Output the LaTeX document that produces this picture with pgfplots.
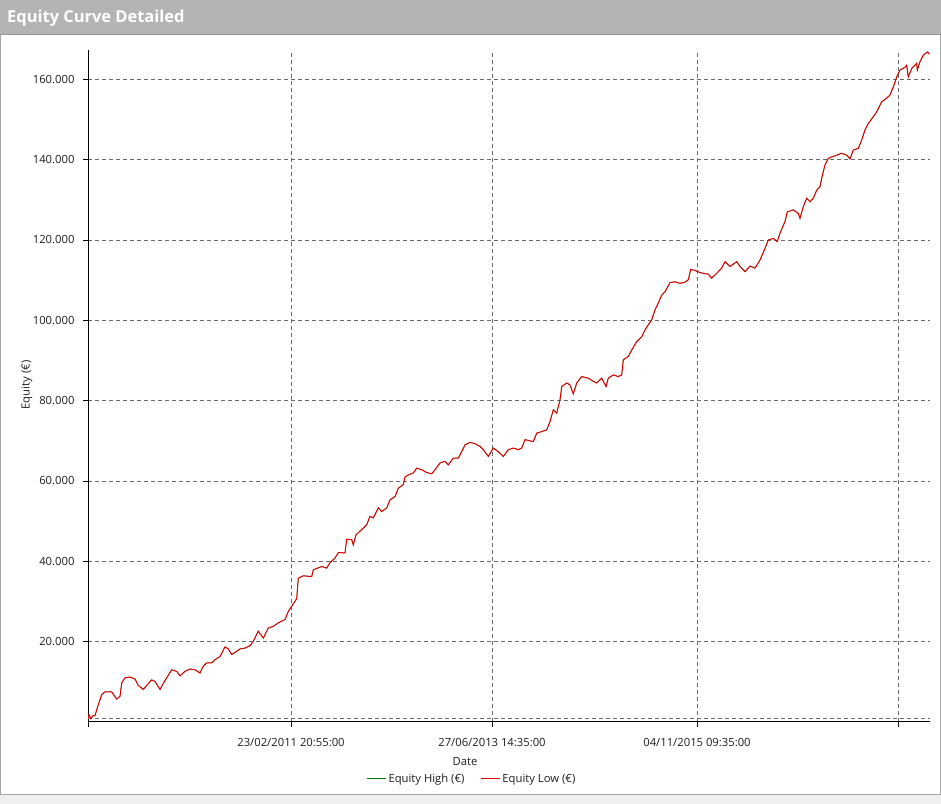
\documentclass[border=0pt]{standalone}
\usepackage{pgfplots}
\pgfplotsset{compat=1.18}
\usepackage{pgfplotstable}
\usepackage{fontspec}
\setmainfont{Open Sans}
\definecolor{eqred}{RGB}{222,0,0}
\definecolor{eqgreen}{RGB}{0,128,0}
\definecolor{gridgray}{RGB}{105,105,105}
\definecolor{barbg}{RGB}{180,180,180}
\definecolor{barline}{RGB}{150,150,150}
\definecolor{framegray}{RGB}{165,165,165}
\definecolor{bandgray}{RGB}{240,240,240}

\pgfplotstableread{
x y
0 1000
1 1800
3 800
5 1600
7 1600
10.3 4300
13.7 6800
17 7500
23.7 7500
28.7 5700
32 6400
33.7 9700
37 11000
42 11200
47 10700
50.3 9100
55.3 8100
58.7 9100
63.7 10500
67 10100
72 8100
75.3 9600
78.7 11000
83.7 13000
88.7 12600
92 11500
97 12600
102 13200
107 13000
112 12200
115.3 13900
118.7 14700
123.7 14700
127 15500
132 16300
137 18700
140.3 18200
143.7 16800
148.7 17600
152 18200
157 18400
162 19000
165.3 20100
170.3 22600
175.3 20900
180.3 23400
185.3 23800
190.3 24700
197 25500
200.3 27500
203.7 28800
208.7 30700
210.3 35800
215.3 36400
223.7 36200
225.3 37900
233.7 38700
238.7 38300
242 39700
247 40800
250.3 42200
257 42100
258.7 45500
263.7 45400
265.3 44100
268 46600
273.7 47900
278.7 49100
282 51200
285.3 50800
290.3 53300
293.7 52400
298.7 53300
302 55300
307 56100
310.3 58200
315.3 59100
317 61000
320.3 61500
325.3 62000
328.7 63200
333.7 62800
338.7 62100
343.7 61800
347 62800
352 64500
357 64900
360.3 64000
365.3 65700
370.3 65700
373.7 67300
377 69000
382 69600
387 69300
392 68600
395.3 67800
400.3 66100
405.3 68200
410.3 67300
415.3 66100
420.3 67800
425.3 68200
430.3 67800
433.7 68200
437 70300
445.3 69800
448.7 71900
453.7 72300
458.7 72700
462 74800
465.3 77700
468.7 76900
472 80200
473.7 83500
478.7 84400
482 83900
485.3 81700
488.7 84400
493.7 86000
500.3 85600
505.3 84800
508.7 84400
513.7 85600
518 83500
520.3 85600
525.3 86400
530.3 86000
533.7 86400
535.3 90200
540.3 91000
543.7 92600
548.7 94700
553.7 95900
557 97600
560.3 98900
563.7 100100
567 102600
570.3 104300
573.7 106300
577 107100
582 109400
587 109600
592 109200
597 109500
600.3 110100
602.7 112700
607 112400
612 111900
615.3 111700
620.3 111500
623.7 110500
628.7 111700
633.7 113000
637 114600
642 113400
648.7 114600
652 113400
657 112100
662 113500
667 113000
672 115000
677 117900
680.3 120000
685.3 120400
689.3 119600
692 121700
697 124600
699.3 127000
705.3 127500
710.3 126600
712 125400
715.3 128300
718.7 130400
722 129500
725.3 130400
728.7 132400
732 133300
733.7 135400
737 138700
740.3 140300
743.7 140700
748.7 141100
753.7 141600
758.7 141100
762 140200
765.3 142400
770.3 142800
773.7 144900
777 147400
780.3 149000
785.3 150700
788.7 151900
793.7 154400
798.7 155300
802 156100
805.3 158100
808.7 160600
812 162300
817 163000
818.7 163500
820.3 160600
823.7 162700
828.7 164000
829.3 162300
832 164400
835.3 166000
839.3 166800
841.3 166300
}\equity

\begin{document}
\begin{tikzpicture}
\path[use as bounding box] (0bp,0bp) rectangle (941bp,804bp);
\fill[white] (0bp,0bp) rectangle (941bp,804bp);
\fill[bandgray] (0bp,0bp) rectangle (941bp,9bp);
\fill[barbg] (0bp,769bp) rectangle (941bp,804bp);
\draw[framegray, line width=1bp] (0.5bp,769bp) -- (0.5bp,9.5bp) -- (940.5bp,9.5bp) -- (940.5bp,769bp);
\draw[barline, line width=1bp] (0bp,769bp) -- (941bp,769bp);
\node[anchor=west, text=white, font=\fontsize{16.5}{19}\selectfont\bfseries, inner sep=0pt] at (7bp,786bp) {Equity Curve Detailed};
\begin{axis}[
  at={(88bp,82bp)}, anchor=south west,
  scale only axis, width=842bp, height=672bp,
  xmin=0, xmax=842, ymin=0, ymax=167300,
  axis lines*=left,
  axis line style={black, line width=1bp},
  scaled x ticks=false, scaled y ticks=false,
  xtick={0,203,404,609,810},
  xticklabels={,23/02/2011 20:55:00,27/06/2013 14:35:00,04/11/2015 09:35:00,},
  ytick={20000,40000,60000,80000,100000,120000,140000,160000},
  yticklabels={20.000,40.000,60.000,80.000,100.000,120.000,140.000,160.000},
  extra y ticks={1000}, extra y tick labels={},
  extra y tick style={major tick length=0pt},
  grid=major,
  major grid style={gridgray, dash pattern=on 4bp off 3bp, line width=0.8bp},
  tick align=outside, major tick length=5bp,
  tick style={black, line width=0.8bp},
  xtick pos=left, ytick pos=left,
  ticklabel style={font=\fontsize{11.3}{13}\selectfont, text=black!88},
  yticklabel style={xshift=-5bp},
  xticklabel style={yshift=-8bp},
  xlabel={Date}, ylabel={Equity (€)},
  label style={font=\fontsize{11.3}{13}\selectfont, text=black!88},
  xlabel style={at={(axis description cs:0.4477,-0.0595)}, anchor=center},
  ylabel style={at={(axis description cs:-0.0725,0.5015)}, anchor=center},
  legend style={at={(axis description cs:0.456,-0.0848)}, anchor=center, draw=none, fill=none,
    font=\fontsize{11.3}{13}\selectfont, text=black!88,
    /tikz/every even column/.append style={column sep=14bp}},
  legend columns=2,
  legend image code/.code={\draw[#1, line width=1bp] (0bp,0bp) -- (19bp,0bp);},
  legend cell align=left,
]
\addplot[eqgreen, line width=0.5bp] table[x=x,y=y] {\equity};
\addlegendentry{Equity High (€)}
\addplot[eqred, line width=1bp] table[x=x,y=y] {\equity};
\addlegendentry{Equity Low (€)}
\end{axis}
\end{tikzpicture}
\end{document}
